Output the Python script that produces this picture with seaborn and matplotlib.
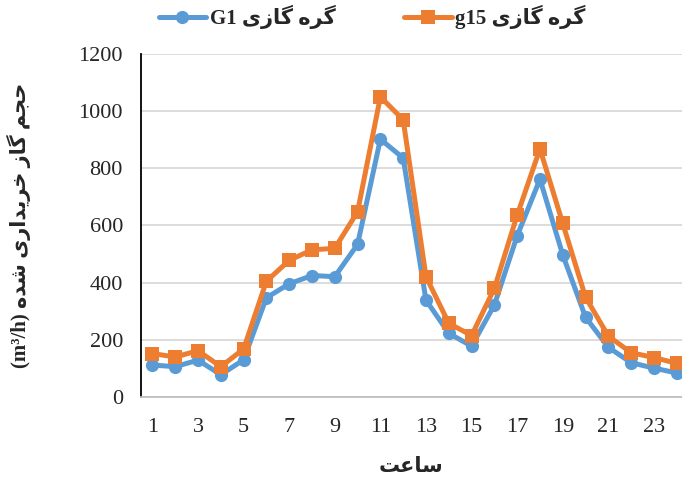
import numpy as np
import pandas as pd
import matplotlib
matplotlib.use("Agg")
import matplotlib.pyplot as plt
import seaborn as sns

# ---------------- data ----------------
hours = list(range(1, 25))
g1_values = [112, 106, 129, 78, 130, 347, 396, 425, 421, 534, 902, 836,
             339, 223, 178, 322, 564, 762, 497, 279, 174, 120, 101, 84]
g15_values = [152, 140, 162, 106, 168, 405, 478, 515, 520, 648, 1050, 970,
              421, 258, 215, 380, 636, 868, 607, 349, 213, 155, 138, 118]
x_tick_values = [1, 3, 5, 7, 9, 11, 13, 15, 17, 19, 21, 23]
x_tick_labels = ["1", "3", "5", "7", "9", "11", "13", "15", "17", "19", "21", "23"]
y_tick_values = [0, 200, 400, 600, 800, 1000, 1200]
y_tick_labels = ["0", "200", "400", "600", "800", "1000", "1200"]
series_names = ["گره گازی", "گره گازی"]
series_codes = ["G1", "g15"]
x_title = "ساعت"
y_title = "حجم گاز خریداری شده"
y_unit = "(m³/h)"

# ---------------- simple Persian shaping ----------------
DUAL = {
    'گ': (0xFB92, 0xFB93, 0xFB94, 0xFB95),
    'ه': (0xFEE9, 0xFEEA, 0xFEEB, 0xFEEC),
    'ی': (0xFBFC, 0xFBFD, 0xFBFE, 0xFBFF),
    'ح': (0xFEA1, 0xFEA2, 0xFEA3, 0xFEA4),
    'ج': (0xFE9D, 0xFE9E, 0xFE9F, 0xFEA0),
    'م': (0xFEE1, 0xFEE2, 0xFEE3, 0xFEE4),
    'خ': (0xFEA5, 0xFEA6, 0xFEA7, 0xFEA8),
    'ش': (0xFEB5, 0xFEB6, 0xFEB7, 0xFEB8),
    'س': (0xFEB1, 0xFEB2, 0xFEB3, 0xFEB4),
    'ع': (0xFEC9, 0xFECA, 0xFECB, 0xFECC),
    'ت': (0xFE95, 0xFE96, 0xFE97, 0xFE98),
}
RIGHT = {
    'ر': (0xFEAD, 0xFEAE),
    'ا': (0xFE8D, 0xFE8E),
    'ز': (0xFEAF, 0xFEB0),
    'د': (0xFEA9, 0xFEAA),
}


def shape(s):
    out = []
    for i, c in enumerate(s):
        if c not in DUAL and c not in RIGHT:
            out.append(c)
            continue
        prev = s[i - 1] if i > 0 else ''
        nxt = s[i + 1] if i + 1 < len(s) else ''
        jp = prev in DUAL
        jn = c in DUAL and (nxt in DUAL or nxt in RIGHT)
        if c in RIGHT:
            out.append(chr(RIGHT[c][1] if jp else RIGHT[c][0]))
        else:
            iso, fin, ini, med = DUAL[c]
            out.append(chr(med if (jp and jn) else fin if jp else ini if jn else iso))
    return ''.join(reversed(out))


# ---------------- style ----------------
sns.set_style("white")
plt.rcParams['font.family'] = ['Liberation Serif', 'DejaVu Sans']

BLUE = "#5B9BD5"
ORANGE = "#ED7D31"

fig = plt.figure(figsize=(6.82, 4.82), dpi=100)
ax = fig.add_axes([141 / 682, 1 - 397 / 482, 1 - 141 / 682, (397 - 54) / 482])

df = pd.DataFrame({"hour": hours, "G1": g1_values, "g15": g15_values})

sns.lineplot(data=df, x="hour", y="G1", ax=ax, color=BLUE, lw=3.6,
             marker="o", markersize=9.5, markeredgewidth=0, label="_a")
sns.lineplot(data=df, x="hour", y="g15", ax=ax, color=ORANGE, lw=3.6,
             marker="s", markersize=9.5, markeredgewidth=0, label="_b")

ax.set_xlim(0.5, 24.23)
ax.set_ylim(0, 1200)
ax.set_yticks(y_tick_values)
ax.set_yticklabels(y_tick_labels)
ax.set_xticks(x_tick_values)
ax.set_xticklabels(x_tick_labels)
ax.tick_params(axis='y', length=0, pad=13, labelsize=16)
ax.tick_params(axis='x', length=0, pad=15, labelsize=16)
ax.yaxis.grid(True, color="#D9D9D9", lw=1.3)
ax.xaxis.grid(False)
ax.set_axisbelow(True)
for side in ["top", "right"]:
    ax.spines[side].set_visible(False)
ax.spines["left"].set_color("black")
ax.spines["left"].set_linewidth(1.3)
ax.spines["bottom"].set_color("#BFBFBF")
ax.spines["bottom"].set_linewidth(1.3)

ax.set_xlabel(shape(x_title), fontsize=15, fontweight="bold", labelpad=14,
              family=['DejaVu Sans'])
ax.set_ylabel(y_unit + " " + shape(y_title), fontsize=15, fontweight="bold")
ax.yaxis.set_label_coords(-0.203, 0.5)

# legend
lines = ax.get_lines()
handles = [lines[0], lines[1]]
labels = [series_codes[i] + " " + shape(series_names[i]) for i in range(2)]
leg = fig.legend(handles, labels, loc="center", bbox_to_anchor=(372 / 682, 1 - 17 / 482),
                 ncol=2, frameon=False, handlelength=2.3, handletextpad=0.15,
                 columnspacing=3.3, prop={'size': 15, 'weight': 'bold',
                                          'family': ['Liberation Serif', 'DejaVu Sans']})

fig.savefig("out.png", dpi=100)
